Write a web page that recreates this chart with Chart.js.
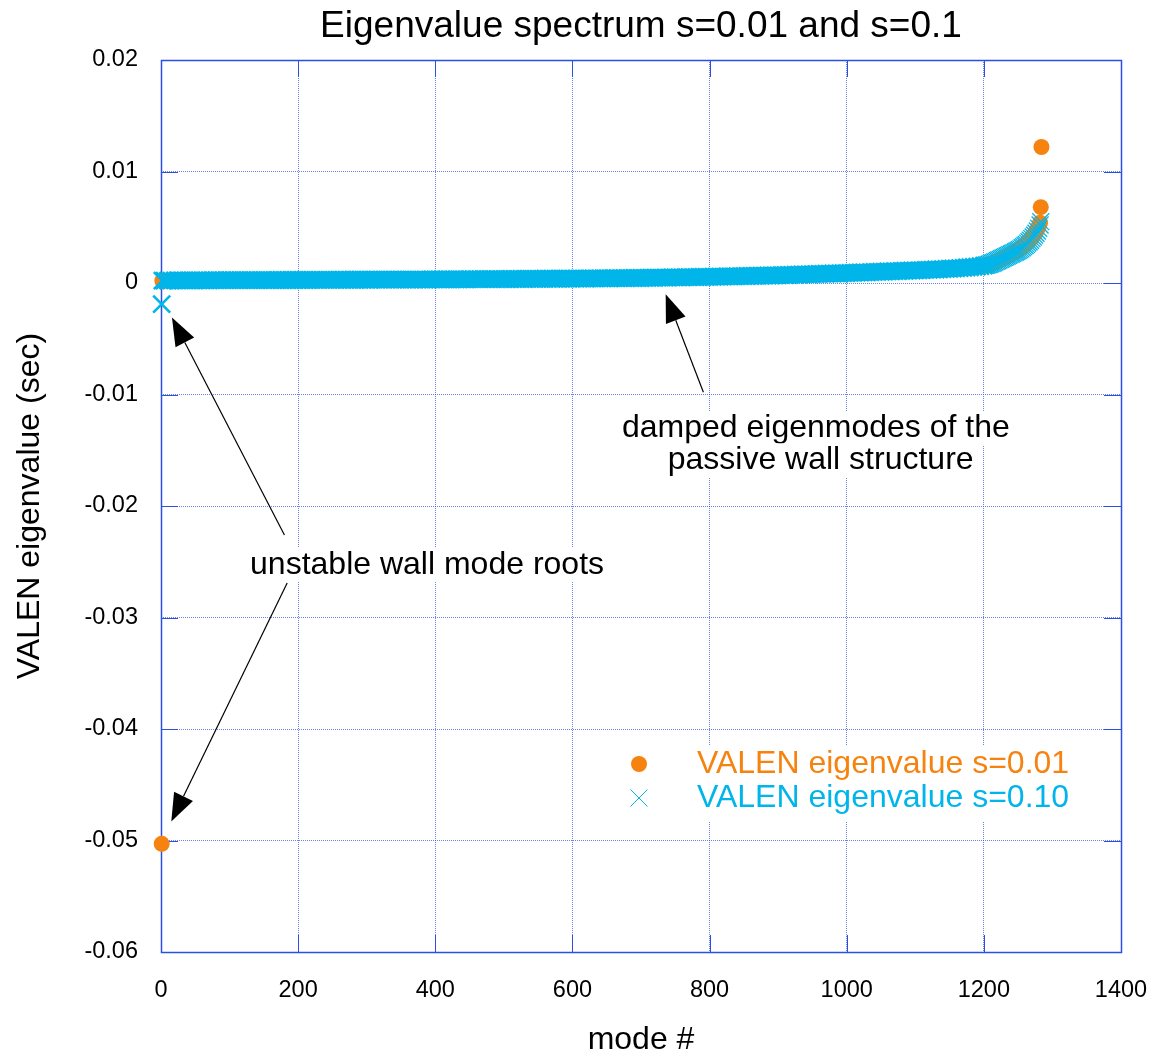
<!DOCTYPE html>
<html><head><meta charset="utf-8">
<script src="https://cdn.jsdelivr.net/npm/chart.js@4/dist/chart.umd.min.js"></script>
<style>html,body{margin:0;padding:0;background:#fff}#wrap{width:1154px;height:1056px}</style>
</head><body><div id="wrap"><canvas id="c" width="1154" height="1056"></canvas></div>
<script>
const FONT = '"Liberation Sans", Arial, Helvetica, sans-serif';

// mode numbers (x)
const modes = [1,2,
5,10,15,20,25,30,35,40,45,50,55,60,65,70,75,80,85,90,95,100,
105,110,115,120,125,130,135,140,145,150,155,160,165,170,175,180,185,190,195,200,
205,210,215,220,225,230,235,240,245,250,255,260,265,270,275,280,285,290,295,300,
305,310,315,320,325,330,335,340,345,350,355,360,365,370,375,380,385,390,395,400,
405,410,415,420,425,430,435,440,445,450,455,460,465,470,475,480,485,490,495,500,
505,510,515,520,525,530,535,540,545,550,555,560,565,570,575,580,585,590,595,600,
605,610,615,620,625,630,635,640,645,650,655,660,665,670,675,680,685,690,695,700,
705,710,715,720,725,730,735,740,745,750,755,760,765,770,775,780,785,790,795,800,
805,810,815,820,825,830,835,840,845,850,855,860,865,870,875,880,885,890,895,900,
905,910,915,920,925,930,935,940,945,950,955,960,965,970,975,980,985,990,995,1000,
1005,1010,1015,1020,1025,1030,1035,1040,1045,1050,1055,1060,1065,1070,1075,1080,1085,1090,1095,1100,
1105,1110,1115,1120,1125,1130,1135,1140,1145,1150,1155,1160,1165,1170,1175,1180,1185,1190,1195,1200,
1202,1204,1206,1208,1210,1212,1214,1216,1218,1220,1222,1224,1226,1228,1230,1232,1234,1236,1238,1240,
1242,1244,1246,1248,1250,1252,1254,1256,1258,1260,1262,1264,1266,1268,1270,1272,1274,1276,1278,1280,1282,
1283,1284];

// VALEN eigenvalue, s=0.01 (sec)
const eigS001 = [-503e-4,2.0e-4,
2.1e-4,2.1e-4,2.2e-4,2.2e-4,2.2e-4,2.2e-4,2.3e-4,2.3e-4,2.3e-4,2.3e-4,2.4e-4,2.4e-4,2.4e-4,2.4e-4,2.4e-4,2.5e-4,2.5e-4,2.5e-4,2.5e-4,2.5e-4,
2.6e-4,2.6e-4,2.6e-4,2.6e-4,2.7e-4,2.7e-4,2.7e-4,2.7e-4,2.7e-4,2.7e-4,2.7e-4,2.7e-4,2.7e-4,2.7e-4,2.7e-4,2.7e-4,2.7e-4,2.7e-4,2.7e-4,2.7e-4,
2.8e-4,2.8e-4,2.8e-4,2.8e-4,2.9e-4,2.9e-4,2.9e-4,2.9e-4,2.9e-4,3.0e-4,3.0e-4,3.0e-4,3.0e-4,3.0e-4,3.0e-4,3.0e-4,3.1e-4,3.1e-4,3.1e-4,3.1e-4,
3.1e-4,3.1e-4,3.2e-4,3.2e-4,3.2e-4,3.2e-4,3.2e-4,3.2e-4,3.3e-4,3.3e-4,3.3e-4,3.3e-4,3.3e-4,3.3e-4,3.3e-4,3.3e-4,3.3e-4,3.3e-4,3.3e-4,3.2e-4,
3.1e-4,3.1e-4,3.1e-4,3.1e-4,3.2e-4,3.2e-4,3.2e-4,3.2e-4,3.2e-4,3.2e-4,3.2e-4,3.3e-4,3.3e-4,3.3e-4,3.3e-4,3.3e-4,3.3e-4,3.4e-4,3.4e-4,3.4e-4,
3.5e-4,3.5e-4,3.6e-4,3.6e-4,3.6e-4,3.6e-4,3.7e-4,3.7e-4,3.7e-4,3.7e-4,3.7e-4,3.8e-4,3.8e-4,3.8e-4,3.8e-4,3.8e-4,3.9e-4,3.9e-4,3.9e-4,3.9e-4,
3.9e-4,4.0e-4,4.0e-4,4.0e-4,4.1e-4,4.1e-4,4.1e-4,4.1e-4,4.2e-4,4.2e-4,4.2e-4,4.3e-4,4.3e-4,4.3e-4,4.4e-4,4.4e-4,4.4e-4,4.5e-4,4.5e-4,4.5e-4,
4.6e-4,4.6e-4,4.7e-4,4.7e-4,4.8e-4,4.8e-4,4.9e-4,4.9e-4,5.0e-4,5.0e-4,5.1e-4,5.1e-4,5.2e-4,5.2e-4,5.3e-4,5.3e-4,5.4e-4,5.4e-4,5.5e-4,5.5e-4,
5.6e-4,5.7e-4,5.7e-4,5.8e-4,5.9e-4,5.9e-4,6.0e-4,6.1e-4,6.1e-4,6.2e-4,6.3e-4,6.3e-4,6.4e-4,6.5e-4,6.5e-4,6.6e-4,6.7e-4,6.7e-4,6.8e-4,6.9e-4,
6.9e-4,7.0e-4,7.1e-4,7.2e-4,7.3e-4,7.4e-4,7.5e-4,7.6e-4,7.7e-4,7.8e-4,7.9e-4,8.0e-4,8.0e-4,8.1e-4,8.2e-4,8.3e-4,8.4e-4,8.5e-4,8.5e-4,8.6e-4,
8.7e-4,8.8e-4,8.9e-4,9.1e-4,9.2e-4,9.3e-4,9.5e-4,9.7e-4,9.8e-4,10.0e-4,10.1e-4,10.3e-4,10.4e-4,10.5e-4,10.7e-4,10.8e-4,11.0e-4,11.1e-4,11.2e-4,11.3e-4,
11.4e-4,11.6e-4,11.7e-4,11.8e-4,12.0e-4,12.1e-4,12.3e-4,12.4e-4,12.6e-4,12.8e-4,13.0e-4,13.2e-4,13.4e-4,13.6e-4,13.9e-4,14.1e-4,14.4e-4,14.7e-4,15.1e-4,15.6e-4,
15.7e-4,16.0e-4,16.4e-4,16.7e-4,17.1e-4,17.5e-4,18.0e-4,18.5e-4,19.1e-4,19.7e-4,20.3e-4,20.9e-4,21.5e-4,22.1e-4,22.8e-4,23.4e-4,24.0e-4,24.6e-4,25.3e-4,25.9e-4,
26.6e-4,27.3e-4,28.0e-4,28.8e-4,29.6e-4,30.4e-4,31.3e-4,32.2e-4,33.2e-4,34.3e-4,35.4e-4,36.6e-4,37.9e-4,39.3e-4,40.8e-4,42.4e-4,44.1e-4,46.0e-4,48.2e-4,50.8e-4,54.0e-4,
68e-4,122e-4];

// VALEN eigenvalue, s=0.10 (sec)
const eigS010 = [-19e-4,2.1e-4,
2.2e-4,2.2e-4,2.2e-4,2.3e-4,2.3e-4,2.3e-4,2.3e-4,2.3e-4,2.4e-4,2.4e-4,2.4e-4,2.4e-4,2.4e-4,2.4e-4,2.5e-4,2.5e-4,2.5e-4,2.5e-4,2.5e-4,2.5e-4,
2.5e-4,2.5e-4,2.5e-4,2.5e-4,2.6e-4,2.6e-4,2.6e-4,2.6e-4,2.6e-4,2.6e-4,2.6e-4,2.6e-4,2.6e-4,2.7e-4,2.7e-4,2.7e-4,2.7e-4,2.7e-4,2.7e-4,2.7e-4,
2.7e-4,2.7e-4,2.7e-4,2.8e-4,2.8e-4,2.8e-4,2.8e-4,2.8e-4,2.8e-4,2.8e-4,2.8e-4,2.9e-4,2.9e-4,2.9e-4,2.9e-4,2.9e-4,2.9e-4,2.9e-4,2.9e-4,2.9e-4,
2.9e-4,3.0e-4,3.0e-4,3.0e-4,3.0e-4,3.0e-4,3.0e-4,3.0e-4,3.0e-4,3.1e-4,3.1e-4,3.1e-4,3.1e-4,3.1e-4,3.1e-4,3.1e-4,3.1e-4,3.1e-4,3.2e-4,3.2e-4,
3.2e-4,3.2e-4,3.2e-4,3.2e-4,3.3e-4,3.3e-4,3.3e-4,3.3e-4,3.3e-4,3.4e-4,3.4e-4,3.4e-4,3.4e-4,3.4e-4,3.4e-4,3.5e-4,3.5e-4,3.5e-4,3.5e-4,3.5e-4,
3.5e-4,3.6e-4,3.6e-4,3.6e-4,3.6e-4,3.6e-4,3.7e-4,3.7e-4,3.7e-4,3.7e-4,3.7e-4,3.8e-4,3.8e-4,3.8e-4,3.8e-4,3.8e-4,3.9e-4,3.9e-4,3.9e-4,3.9e-4,
3.9e-4,4.0e-4,4.0e-4,4.0e-4,4.1e-4,4.1e-4,4.1e-4,4.1e-4,4.2e-4,4.2e-4,4.2e-4,4.3e-4,4.3e-4,4.3e-4,4.4e-4,4.4e-4,4.4e-4,4.5e-4,4.5e-4,4.5e-4,
4.6e-4,4.6e-4,4.7e-4,4.7e-4,4.8e-4,4.8e-4,4.9e-4,4.9e-4,5.0e-4,5.0e-4,5.1e-4,5.1e-4,5.2e-4,5.2e-4,5.3e-4,5.3e-4,5.4e-4,5.4e-4,5.5e-4,5.5e-4,
5.6e-4,5.7e-4,5.7e-4,5.8e-4,5.9e-4,5.9e-4,6.0e-4,6.1e-4,6.1e-4,6.2e-4,6.3e-4,6.3e-4,6.4e-4,6.5e-4,6.5e-4,6.6e-4,6.7e-4,6.7e-4,6.8e-4,6.9e-4,
7.0e-4,7.1e-4,7.2e-4,7.3e-4,7.4e-4,7.5e-4,7.6e-4,7.7e-4,7.8e-4,7.9e-4,8.0e-4,8.1e-4,8.2e-4,8.3e-4,8.4e-4,8.5e-4,8.6e-4,8.7e-4,8.8e-4,8.9e-4,
9.0e-4,9.1e-4,9.3e-4,9.4e-4,9.5e-4,9.6e-4,9.7e-4,9.9e-4,10.0e-4,10.1e-4,10.2e-4,10.4e-4,10.5e-4,10.6e-4,10.7e-4,10.8e-4,11.0e-4,11.1e-4,11.2e-4,11.3e-4,
11.4e-4,11.6e-4,11.7e-4,11.8e-4,12.0e-4,12.1e-4,12.3e-4,12.4e-4,12.6e-4,12.8e-4,13.0e-4,13.2e-4,13.4e-4,13.6e-4,13.9e-4,14.1e-4,14.4e-4,14.7e-4,15.1e-4,15.6e-4,
15.8e-4,16.1e-4,16.4e-4,16.8e-4,17.2e-4,17.7e-4,18.2e-4,18.8e-4,19.4e-4,20.0e-4,20.6e-4,21.2e-4,21.8e-4,22.4e-4,23.0e-4,23.6e-4,24.2e-4,24.8e-4,25.4e-4,26.0e-4,
26.6e-4,27.2e-4,27.8e-4,28.5e-4,29.2e-4,29.9e-4,30.6e-4,31.6e-4,32.6e-4,33.6e-4,34.6e-4,35.8e-4,37.0e-4,38.4e-4,39.8e-4,41.3e-4,42.9e-4,44.6e-4,46.6e-4,49.0e-4,52.0e-4,
55e-4,null];

const titleText = 'Eigenvalue spectrum s=0.01 and s=0.1';
const seriesLabels = ['VALEN eigenvalue s=0.01', 'VALEN eigenvalue s=0.10'];
const xTickValues = [0, 200, 400, 600, 800, 1000, 1200, 1400];
const xTickLabels = ['0', '200', '400', '600', '800', '1000', '1200', '1400'];
const yTickValues = [-0.06, -0.05, -0.04, -0.03, -0.02, -0.01, 0, 0.01, 0.02];
const yTickLabels = ['-0.06', '-0.05', '-0.04', '-0.03', '-0.02', '-0.01', '0', '0.01', '0.02'];

const ORANGE = '#f6830f';
const CYAN = '#00b5ea';
const AXIS_BLUE = '#2b4fe2';
const GRID_BLUE = 'rgba(43,79,226,0.7)';

// annotations, positioned in data coordinates
const arrowSpecs = [
  {from: [180, -0.0226], to: [16, -0.0031]},
  {from: [184, -0.0269], to: [15, -0.0483]},
  {from: [791, -0.0098], to: [736, -0.0010]}
];
const noteSpecs = [
  {text: 'unstable wall mode roots', at: [388, -0.0253]},
  {text: 'damped eigenmodes of the', at: [955, -0.0130]},
  {text: 'passive wall structure', at: [962, -0.0159]}
];

function toPoints(xs, ys) {
  const out = [];
  xs.forEach((m, i) => { if (ys[i] !== null && ys[i] !== undefined) out.push({x: m, y: ys[i]}); });
  return out;
}

const frame = {
  id: 'frame',
  beforeDatasetsDraw(chart) {
    const {ctx, chartArea: a, scales: {x, y}} = chart;
    ctx.save();
    ctx.strokeStyle = AXIS_BLUE;
    ctx.lineWidth = 1;
    const T = 17;
    ctx.beginPath();
    xTickValues.forEach(v => {
      const px = Math.round(x.getPixelForValue(v)) + 0.5;
      ctx.moveTo(px, a.bottom); ctx.lineTo(px, a.bottom - T);
      ctx.moveTo(px, a.top); ctx.lineTo(px, a.top + T);
    });
    yTickValues.forEach(v => {
      const py = Math.round(y.getPixelForValue(v)) + 0.5;
      ctx.moveTo(a.left, py); ctx.lineTo(a.left + T, py);
      ctx.moveTo(a.right, py); ctx.lineTo(a.right - T, py);
    });
    ctx.stroke();
    ctx.lineWidth = 1.5;
    ctx.strokeRect(Math.round(a.left) + 0.5, Math.round(a.top) + 0.5, Math.round(a.right - a.left), Math.round(a.bottom - a.top));
    ctx.restore();
  },
  afterDatasetsDraw(chart) {
    const {ctx, chartArea: a, scales: {x, y}} = chart;
    ctx.save();
    // title, centred over the plot area
    ctx.fillStyle = '#000';
    ctx.font = '37px ' + FONT;
    ctx.textAlign = 'center';
    ctx.textBaseline = 'middle';
    ctx.fillText(titleText, (a.left + a.right) / 2, 27);

    // legend box
    ctx.fillStyle = '#fff';
    ctx.fillRect(a.right - 520, a.bottom - 206, 514, 76);
    const mx = a.right - 482, tx = a.right - 424;
    const rows = [a.bottom - 188, a.bottom - 154];
    ctx.fillStyle = ORANGE;
    ctx.beginPath(); ctx.arc(mx, rows[0], 8, 0, Math.PI * 2); ctx.fill();
    ctx.strokeStyle = CYAN; ctx.lineWidth = 1;
    const d = 12 * Math.SQRT1_2;
    ctx.beginPath();
    ctx.moveTo(mx - d, rows[1] - d); ctx.lineTo(mx + d, rows[1] + d);
    ctx.moveTo(mx - d, rows[1] + d); ctx.lineTo(mx + d, rows[1] - d);
    ctx.stroke();
    ctx.font = '32px ' + FONT;
    ctx.textBaseline = 'middle';
    ctx.textAlign = 'left';
    ctx.fillStyle = ORANGE; ctx.fillText(seriesLabels[0], tx, rows[0]);
    ctx.fillStyle = CYAN; ctx.fillText(seriesLabels[1], tx, rows[1]);

    // arrows
    ctx.fillStyle = '#000'; ctx.strokeStyle = '#000';
    arrowSpecs.forEach(s => {
      const x1 = x.getPixelForValue(s.from[0]), y1 = y.getPixelForValue(s.from[1]);
      const x2 = x.getPixelForValue(s.to[0]), y2 = y.getPixelForValue(s.to[1]);
      const ang = Math.atan2(y2 - y1, x2 - x1), L = 28, W = 10.5;
      const bx = x2 - L * Math.cos(ang), by = y2 - L * Math.sin(ang);
      ctx.lineWidth = 1.2;
      ctx.beginPath(); ctx.moveTo(x1, y1); ctx.lineTo(bx, by); ctx.stroke();
      ctx.beginPath();
      ctx.moveTo(x2, y2);
      ctx.lineTo(bx + W * Math.sin(ang), by - W * Math.cos(ang));
      ctx.lineTo(bx - W * Math.sin(ang), by + W * Math.cos(ang));
      ctx.closePath(); ctx.fill();
    });
    // notes
    ctx.font = '32px ' + FONT;
    ctx.textAlign = 'center';
    ctx.textBaseline = 'middle';
    noteSpecs.forEach(n => {
      const px = x.getPixelForValue(n.at[0]), py = y.getPixelForValue(n.at[1]);
      const w = ctx.measureText(n.text).width;
      ctx.fillStyle = '#fff';
      ctx.fillRect(px - w / 2 - 6, py - 17, w + 12, 34);
      ctx.fillStyle = '#000';
      ctx.fillText(n.text, px, py);
    });
    ctx.restore();
  }
};

Chart.defaults.color = '#000';
Chart.defaults.font.family = FONT;

new Chart(document.getElementById('c'), {
  type: 'scatter',
  data: {
    datasets: [
      {
        label: seriesLabels[1],
        data: toPoints(modes, eigS010),
        order: 1,
        clip: false,
        pointStyle: 'crossRot',
        pointRadius: 12,
        pointHoverRadius: 12,
        pointBorderColor: CYAN,
        pointBackgroundColor: CYAN,
        pointBorderWidth: (c) => (c.raw && c.raw.x > 1200) ? 1.3 : 2.6
      },
      {
        label: seriesLabels[0],
        data: toPoints(modes, eigS001),
        order: 2,
        clip: false,
        pointStyle: 'circle',
        pointRadius: 8,
        pointHoverRadius: 8,
        pointBackgroundColor: ORANGE,
        pointBorderColor: ORANGE,
        pointBorderWidth: 0
      }
    ]
  },
  options: {
    responsive: false,
    animation: false,
    events: [],
    layout: {padding: {left: 0, right: 33, top: 60, bottom: 0}},
    plugins: {
      legend: {display: false},
      tooltip: {enabled: false},
      title: {display: false}
    },
    scales: {
      x: {
        type: 'linear',
        min: 0, max: 1400,
        afterBuildTicks(s) { s.ticks = xTickValues.map(v => ({value: v})); },
        afterFit(s) { s.height = 104; s.paddingLeft = 0; s.paddingRight = 0; },
        ticks: {
          font: {size: 23.5, family: FONT},
          color: '#000',
          padding: 24,
          maxRotation: 0,
          callback: (v) => xTickLabels[xTickValues.indexOf(v)]
        },
        grid: {color: GRID_BLUE, lineWidth: 1, drawTicks: false},
        border: {display: false, dash: [1, 1]},
        title: {display: true, text: 'mode #', color: '#000', font: {size: 32, family: FONT, lineHeight: 1}, padding: {top: 0, bottom: 0}}
      },
      y: {
        type: 'linear',
        min: -0.06, max: 0.02,
        afterBuildTicks(s) { s.ticks = yTickValues.map(v => ({value: v})); },
        afterFit(s) { s.width = 161; s.paddingTop = 0; s.paddingBottom = 0; },
        ticks: {
          font: {size: 23.5, family: FONT},
          color: '#000',
          padding: 23,
          callback: (v) => yTickLabels[yTickValues.indexOf(v)]
        },
        grid: {color: GRID_BLUE, lineWidth: 1, drawTicks: false},
        border: {display: false, dash: [1, 1]},
        title: {display: true, text: 'VALEN eigenvalue (sec)', color: '#000', font: {size: 32, family: FONT, lineHeight: 1}, padding: {top: 14, bottom: 0}}
      }
    }
  },
  plugins: [frame]
});
</script>
</body></html>
